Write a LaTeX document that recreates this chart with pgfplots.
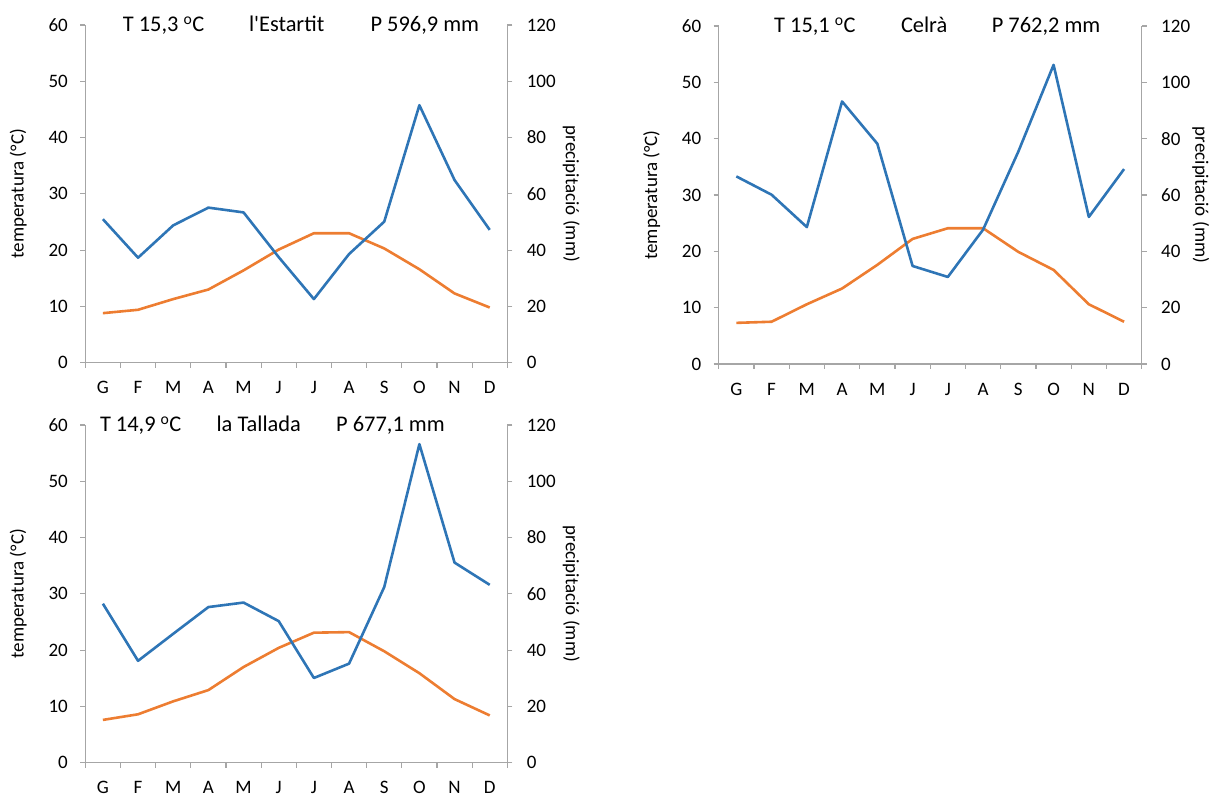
\documentclass[border=0pt]{standalone}
\usepackage{fontspec}
\setmainfont{Carlito}
\newfontfamily\carl{Carlito}
\usepackage{pgfplots}
\pgfplotsset{compat=1.18}
\definecolor{tblue}{HTML}{2E75B6}
\definecolor{torange}{HTML}{ED7D31}
\definecolor{axgray}{HTML}{A6A6A6}
\newcommand{\tickfont}{\fontsize{19}{22}\selectfont}
\newcommand{\titlefont}{\fontsize{22.4}{26}\selectfont}

\pgfplotsset{
 base/.style={
   scale only axis, anchor=south west,
   xmin=-0.5, xmax=11.5, ymin=0,
   /pgf/number format/assume math mode=true,
   tick label style={font=\tickfont, black},
   tick align=outside,
   axis line style={draw=axgray, line width=1.1pt, -},
   every tick/.style={draw=axgray, line width=1.1pt},
   major tick length=5pt, minor tick length=5pt,
 },
 tax/.style={base,
   ymax=60, ytick={0,10,...,60},
   axis x line*=bottom, axis y line*=left,
   xtick={0,...,11}, xticklabels={G,F,M,A,M,J,J,A,S,O,N,D},
   minor xtick={-0.5,0.5,...,11.5},
   major x tick style={draw=none},
   yticklabel style={xshift=-9pt},
   xticklabel style={yshift=-10.3pt},
   every axis y label/.style={at={(rel axis cs:0,0.5)}, xshift=-67pt, rotate=90, anchor=center, font=\tickfont},
   ylabel={temperatura (°C)},
 },
 pax/.style={base, ymax=120, ytick={0,20,...,120},
   axis x line=none, axis y line*=right,
   yticklabel style={xshift=11pt},
   every axis y label/.style={at={(rel axis cs:1,0.5)}, xshift=#1, rotate=-90, anchor=center, font=\tickfont},
   ylabel={precipitació (mm)},
 },
 tline/.style={torange, line width=2.6pt, line join=round},
 pline/.style={tblue, line width=2.6pt, line join=round},
}

\begin{document}
\begin{tikzpicture}
\path[use as bounding box] (0,0) rectangle (1212pt,794pt);

% ---- l'Estartit ----
\begin{axis}[tax, at={(85.3pt,431.3pt)}, width=422pt, height=337.7pt]
\addplot[tline] coordinates {(0,8.8) (1,9.4) (2,11.3) (3,13.0) (4,16.4) (5,20.1) (6,23.0) (7,23.0) (8,20.3) (9,16.6) (10,12.3) (11,9.8)};
\end{axis}
\begin{axis}[pax=64pt, at={(85.3pt,431.3pt)}, width=422pt, height=337.7pt]
\addplot[pline] coordinates {(0,51.0) (1,37.3) (2,48.8) (3,55.1) (4,53.4) (5,37.5) (6,22.6) (7,38.6) (8,50.1) (9,91.5) (10,64.9) (11,47.2)};
\end{axis}

% ---- Celrà ----
\begin{axis}[tax, at={(718.7pt,430pt)}, width=423pt, height=338pt]
\addplot[tline] coordinates {(0,7.3) (1,7.5) (2,10.6) (3,13.4) (4,17.6) (5,22.2) (6,24.1) (7,24.1) (8,19.9) (9,16.7) (10,10.6) (11,7.5)};
\end{axis}
\begin{axis}[pax=59pt, at={(718.7pt,430pt)}, width=423pt, height=338pt]
\addplot[pline] coordinates {(0,66.6) (1,60.1) (2,48.6) (3,93.2) (4,78.2) (5,34.8) (6,30.9) (7,47.7) (8,75.4) (9,106.2) (10,52.2) (11,69.2)};
\end{axis}

% ---- la Tallada ----
\begin{axis}[tax, at={(85.3pt,31.3pt)}, width=422pt, height=337.7pt]
\addplot[tline] coordinates {(0,7.6) (1,8.6) (2,10.9) (3,12.9) (4,17.0) (5,20.4) (6,23.1) (7,23.2) (8,19.8) (9,15.9) (10,11.3) (11,8.4)};
\end{axis}
\begin{axis}[pax=64pt, at={(85.3pt,31.3pt)}, width=422pt, height=337.7pt]
\addplot[pline] coordinates {(0,56.5) (1,36.2) (2,45.8) (3,55.3) (4,56.9) (5,50.3) (6,30.1) (7,35.2) (8,62.4) (9,113.2) (10,71.1) (11,63.2)};
\end{axis}

% ---- titles ----
\begin{scope}[every node/.style={anchor=base west, inner sep=0pt, font=\titlefont}]
\node at (122.7pt,762.3pt) {T 15,3 \textsuperscript{o}C};
\node at (248.8pt,762.3pt) {\carl l'Estartit};
\node at (370.4pt,762.3pt) {P 596,9 mm};
\node at (774pt,761.3pt) {T 15,1 \textsuperscript{o}C};
\node at (900.8pt,761.3pt) {Celrà};
\node at (991.6pt,761.3pt) {P 762,2 mm};
\node at (99.8pt,362.3pt) {T 14,9 \textsuperscript{o}C};
\node at (216.4pt,362.3pt) {la Tallada};
\node at (336pt,362.3pt) {P 677,1 mm};
\end{scope}
\end{tikzpicture}
\end{document}
